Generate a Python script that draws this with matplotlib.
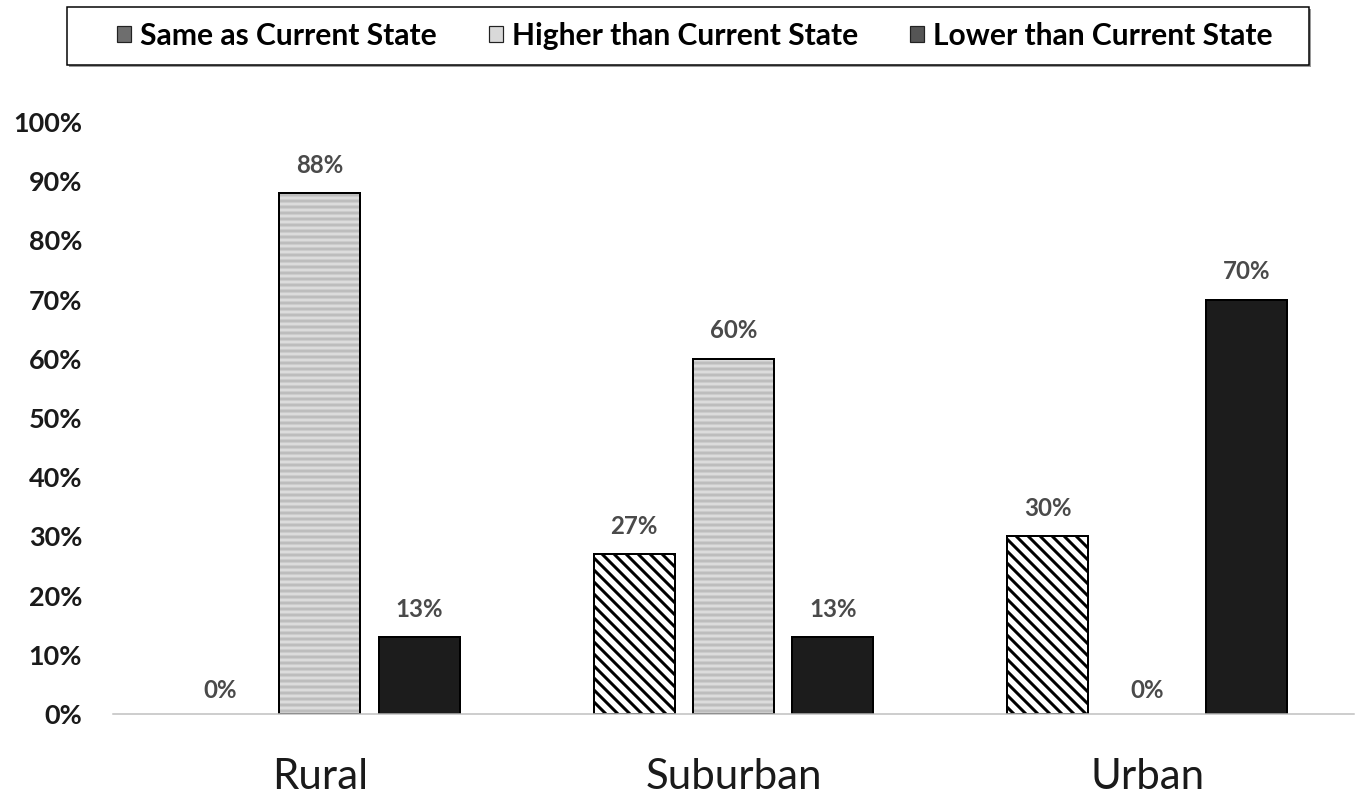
import numpy as np
import matplotlib
matplotlib.use("Agg")
import matplotlib.pyplot as plt
from matplotlib.patches import Patch, Rectangle

# Survey shares by area type
areas = ["Rural", "Suburban", "Urban"]
same_as_current = [0, 27, 30]
higher_than_current = [88, 60, 0]
lower_than_current = [13, 13, 70]
series_names = ["Same as Current State", "Higher than Current State", "Lower than Current State"]
y_ticks = [0, 10, 20, 30, 40, 50, 60, 70, 80, 90, 100]

plt.rcParams["font.family"] = ["Lato", "DejaVu Sans"]
plt.rcParams["hatch.linewidth"] = 3.0

# dpi 72 so that 1 pt == 1 px
fig = plt.figure(figsize=(1362 / 72, 802 / 72), dpi=72)
ax = fig.add_axes([113 / 1362, 88 / 802, 1241 / 1362, 592 / 802])

x = np.arange(len(areas))
w = 0.196
step = 0.24


def edge_widths(vals):
    # no outline for empty bars
    return [2 if v > 0 else 0 for v in vals]


# Same as current: diagonal hatch
ax.bar(x - step, same_as_current, w, facecolor="white", edgecolor="black",
       hatch="\\\\", linewidth=edge_widths(same_as_current))
# Higher than current: light grey with faint horizontal lines
ax.bar(x, higher_than_current, w, facecolor="#dcdcdc", edgecolor="#bdbdbd",
       hatch="--", linewidth=0)
ax.bar(x, higher_than_current, w, fill=False, edgecolor="black",
       linewidth=edge_widths(higher_than_current))
# Lower than current: near-black
ax.bar(x + step, lower_than_current, w, facecolor="#1c1c1c", edgecolor="black",
       linewidth=edge_widths(lower_than_current))

# value labels
for offs, vals in [(-step, same_as_current), (0, higher_than_current), (step, lower_than_current)]:
    for xi, v in zip(x, vals):
        bump = 28 if v > 0 else 24
        ax.annotate(f"{v}%", (xi + offs, v), xytext=(0, bump),
                    textcoords="offset points", ha="center", va="center",
                    fontsize=24, fontweight="bold", color="#4a4a4a")

ax.set_xlim(-0.5, 2.5)
ax.set_ylim(0, 100)
ax.set_yticks(y_ticks)
ax.set_yticklabels([f"{t}%" for t in y_ticks], fontsize=27, fontweight="bold", color="#1a1a1a")
ax.set_xticks(x)
ax.set_xticklabels(areas, fontsize=42, color="#1a1a1a")
ax.tick_params(axis="y", length=0, pad=31)
ax.tick_params(axis="x", length=0, pad=44)

for s in ["top", "right", "left"]:
    ax.spines[s].set_visible(False)
ax.spines["bottom"].set_color("#bfbfbf")
ax.spines["bottom"].set_linewidth(1.5)

# legend with a boxed frame above the plot
handles = [
    Patch(facecolor="#6e6e6e", edgecolor="#222222", linewidth=1.2),
    Patch(facecolor="#d9d9d9", edgecolor="#222222", linewidth=1.2),
    Patch(facecolor="#555555", edgecolor="#222222", linewidth=1.2),
]
fig.legend(handles, series_names, loc="center", bbox_to_anchor=(695 / 1362, 1 - 36 / 802),
           ncol=3, frameon=False, prop={"family": "Lato", "weight": "bold", "size": 30},
           handlelength=0.45, handleheight=0.45, handletextpad=0.3, columnspacing=1.75)
fig.patches.append(Rectangle((69 / 1362, 1 - 67 / 802), 1242 / 1362, 58 / 802,
                             transform=fig.transFigure, facecolor="#9a9a9a",
                             edgecolor="none", zorder=0))
fig.patches.append(Rectangle((67 / 1362, 1 - 65 / 802), 1242 / 1362, 58 / 802,
                             transform=fig.transFigure, facecolor="white",
                             edgecolor="black", linewidth=1.5, zorder=1))

fig.savefig("out.png", dpi=72)
